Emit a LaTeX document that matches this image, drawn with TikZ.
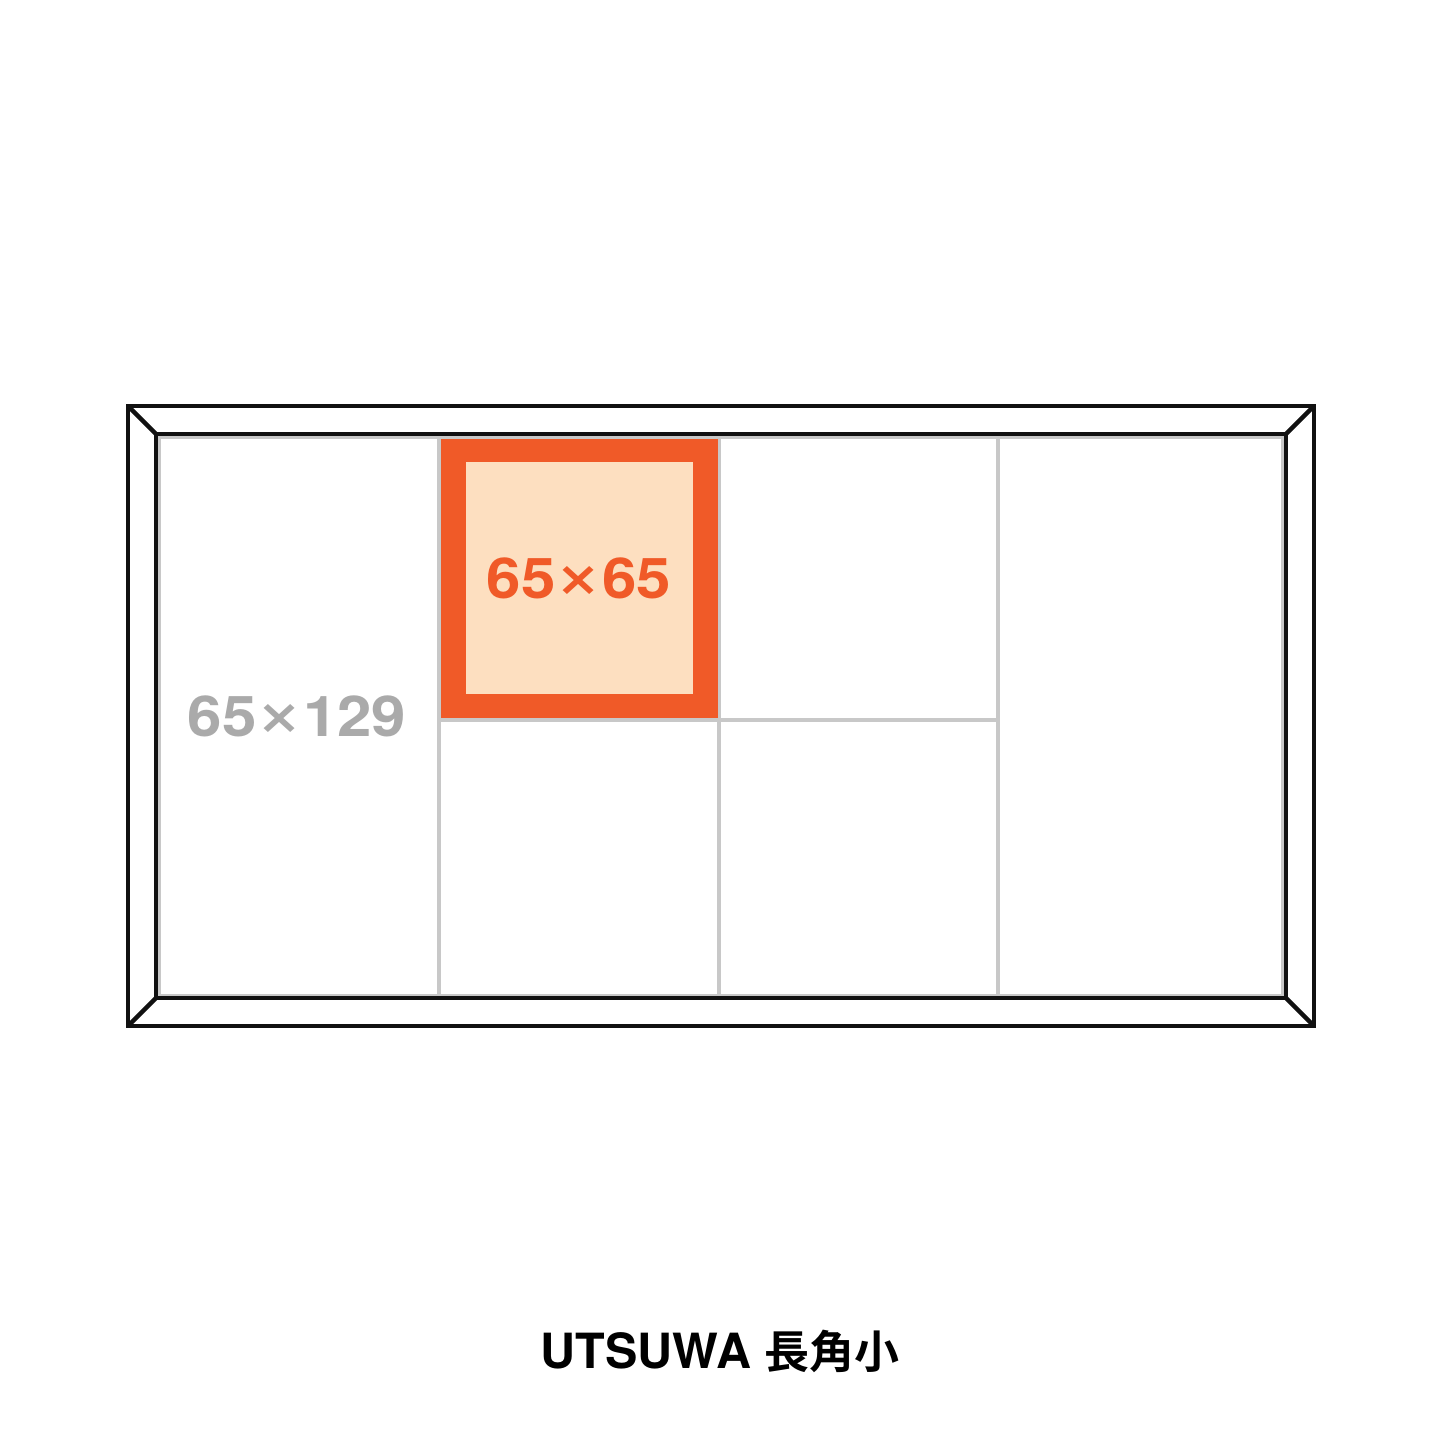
\documentclass[tikz,border=0pt]{standalone}
\usepackage{fontspec}
\setmainfont{TeX Gyre Heros}
\newfontfamily\jpfont{Noto Sans CJK JP}[BoldFont={* Bold}]
\newfontfamily\symfont{DejaVu Sans}
\definecolor{frame}{HTML}{111111}
\definecolor{gridc}{HTML}{C8C8C8}
\definecolor{orng}{HTML}{F05A28}
\definecolor{peach}{HTML}{FDDFC0}
\definecolor{greytext}{HTML}{AAAAAA}
\newcommand{\mytimes}{\hspace{0.02em}\raisebox{0.04em}{\scalebox{0.85}{\symfont\bfseries ×}}\hspace{0.02em}}
\newcommand{\dimtext}[1]{\scalebox{1.1}[1]{#1}}
\begin{document}
\begin{tikzpicture}[x=0.25mm,y=-0.25mm,
  frameline/.style={draw=frame,line width=1.1mm,line join=miter},
  gridline/.style={draw=gridc,line width=0.8mm},
  label/.style={font=\bfseries\fontsize{40}{40}\selectfont,inner sep=0pt}]
\useasboundingbox[fill=white] (0,0) rectangle (1445,1445);
% coordinates
\coordinate (o1) at (128,406); \coordinate (o2) at (1314,406);
\coordinate (o3) at (1314,1026); \coordinate (o4) at (128,1026);
\coordinate (i1) at (156,434); \coordinate (i2) at (1286,434);
\coordinate (i3) at (1286,998); \coordinate (i4) at (156,998);
% grid
\draw[gridline] (159.5,437) rectangle (1283,995.5);
\draw[gridline] (439,437) -- (439,995.5);
\draw[gridline] (719,437) -- (719,995.5);
\draw[gridline] (998,437) -- (998,995.5);
\draw[gridline] (439,720) -- (998,720);
% highlighted cell
\node[fill=orng,minimum width=277*0.25mm,minimum height=279*0.25mm,inner sep=0pt,anchor=north west] (cellA) at (441,439) {};
\node[fill=peach,minimum width=227*0.25mm,minimum height=232*0.25mm,inner sep=0pt] (cellB) at (579.5,578) {};
\node[label,text=orng] (t1) at (579,578) {\dimtext{65\mytimes65}};
\node[label,text=greytext] (t2) at (297,716) {\dimtext{65\mytimes129}};
% frame
\draw[frameline] (o1) rectangle (o3);
\draw[frameline] (i1) rectangle (i3);
\draw[frameline] (o1) -- (i1) (o2) -- (i2) (o3) -- (i3) (o4) -- (i4);
% caption
\node[font=\bfseries\fontsize{34.5}{34.5}\selectfont,inner sep=0pt] (cap) at (720,1351) {UTSUWA {\jpfont\bfseries\fontsize{32}{32}\selectfont 長角小}};
\end{tikzpicture}
\end{document}
